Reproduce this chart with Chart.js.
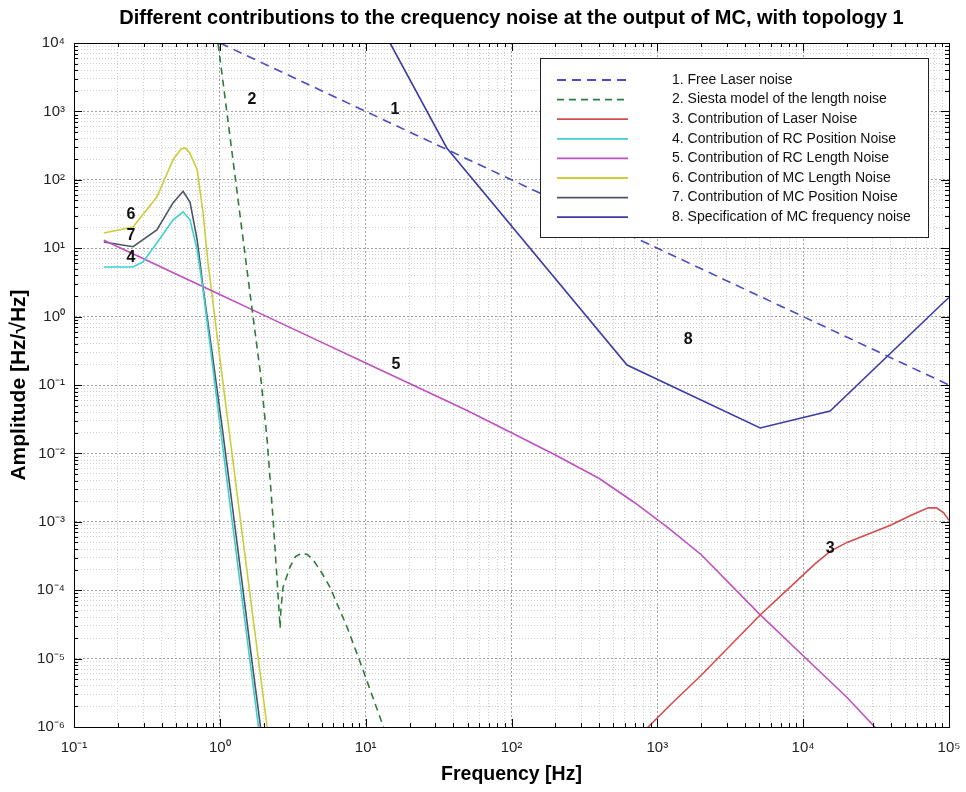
<!DOCTYPE html>
<html><head><meta charset="utf-8">
<script src="https://cdn.jsdelivr.net/npm/chart.js@4.4.1/dist/chart.umd.min.js"></script>
<style>html,body{margin:0;padding:0;background:#fff}#wrap{width:966px;height:792px}</style>
</head><body><div id="wrap"><canvas id="c" width="966" height="792"></canvas></div>
<script>
// ---------- texts ----------
const chartTitle = "Different contributions to the crequency noise at the output of MC, with topology 1";
const xTitle = "Frequency [Hz]";
const yTitle = "Amplitude [Hz/\u221AHz]";
const seriesLabels = [
  "1. Free Laser noise",
  "2. Siesta model of the length noise",
  "3. Contribution of Laser Noise",
  "4. Contribution of RC Position Noise",
  "5. Contribution of RC Length Noise",
  "6. Contribution of MC Length Noise",
  "7. Contribution of MC Position Noise",
  "8. Specification of MC frequency noise"
];
const xTickValues = [0.1, 1, 10, 100, 1e3, 1e4, 1e5];
const xTickLabels = ["10\u207B\u00B9", "10\u2070", "10\u00B9", "10\u00B2", "10\u00B3", "10\u2074", "10\u2075"];
const yTickValues = [1e-6, 1e-5, 1e-4, 1e-3, 1e-2, 1e-1, 1, 10, 100, 1e3, 1e4];
const yTickLabels = ["10\u207B\u2076", "10\u207B\u2075", "10\u207B\u2074", "10\u207B\u00B3", "10\u207B\u00B2", "10\u207B\u00B9", "10\u2070", "10\u00B9", "10\u00B2", "10\u00B3", "10\u2074"];

// ---------- series (frequency [Hz], amplitude [Hz/sqrtHz]) ----------
const freeLaserF = [1, 10, 100, 1000, 10000, 100000];
const freeLaserA = [1e4, 1e3, 100, 10, 1, 0.1];

const siestaF = [0.95, 1.175, 1.375, 1.61, 1.89, 2.11, 2.32, 2.47, 2.59, 2.62, 2.71, 3.03, 3.3, 3.66, 4.0, 4.35, 5.0, 5.7, 7.45, 9.2, 12.6, 14];
const siestaA = [1.45e4, 423, 30.6, 2.2, 0.16, 0.0158, 1.07e-3, 1.4e-4, 2.8e-5, 5e-5, 1.1e-4, 2.2e-4, 3.1e-4, 3.5e-4, 3.3e-4, 2.8e-4, 1.8e-4, 1.1e-4, 2.9e-5, 8.7e-6, 1.35e-6, 7e-7];

const laserF = [780, 865, 1225, 2000, 5070, 8000, 12000, 15300, 20000, 27500, 40000, 55000, 72000, 82000, 92000, 100000];
const laserA = [8e-7, 1e-6, 2.1e-6, 5.7e-6, 4.34e-5, 1.07e-4, 2.4e-4, 3.7e-4, 5.0e-4, 6.5e-4, 9e-4, 1.25e-3, 1.6e-3, 1.6e-3, 1.35e-3, 1.05e-3];

const rcPosF = [0.16, 0.254, 0.297, 0.37, 0.477, 0.56, 0.625, 0.70, 0.767, 0.857, 1.0, 1.17, 1.375, 1.61, 1.83, 1.95];
const rcPosA = [5.3, 5.3, 6.3, 11.9, 25.8, 34, 25.8, 9.4, 2.45, 0.385, 0.027, 1.9e-3, 1.3e-4, 9.2e-6, 1.1e-6, 3.8e-7];

const rcLenF = [0.16, 0.3, 0.5, 1, 2, 5, 10, 20, 50, 100, 200, 400, 700, 1200, 2000, 5000, 10000, 20000, 31000, 40000];
const rcLenA = [13.1, 7.0, 4.2, 2.1, 1.05, 0.42, 0.21, 0.105, 0.042, 0.02, 0.0095, 0.0043, 0.0019, 8e-4, 3.3e-4, 4.5e-5, 1.1e-5, 2.7e-6, 1.0e-6, 6e-7];

const mcLenF = [0.16, 0.254, 0.37, 0.477, 0.54, 0.576, 0.62, 0.70, 0.767, 0.83, 1.0, 1.31, 1.61, 2.11, 2.3];
const mcLenA = [16.7, 20.4, 56, 195, 280, 292, 250, 139, 33, 6.1, 0.25, 2.7e-3, 8.7e-5, 1e-6, 2.3e-7];

const mcPosF = [0.16, 0.254, 0.37, 0.477, 0.56, 0.625, 0.70, 0.767, 0.87, 1.03, 1.21, 1.42, 1.66, 1.89, 2.01];
const mcPosA = [12.3, 10.5, 18.5, 46, 68, 47, 13, 2.7, 0.385, 0.027, 1.9e-3, 1.3e-4, 9.2e-6, 1.1e-6, 3.8e-7];

const specF = [10, 14.7, 36, 620, 5070, 15300, 91000, 100000];
const specA = [4.5e4, 1e4, 292, 0.196, 0.0235, 0.0417, 1.58, 1.9];

// curve number annotations
const noteText = ["1", "2", "3", "4", "5", "6", "7", "8"];
const noteF = [15.9, 1.66, 15300, 0.246, 16.1, 0.246, 0.246, 1625];
const noteA = [1050, 1470, 4.0e-4, 7.4, 0.2, 30.6, 15.1, 0.455];

// ---------- build ----------
const FONT = "'Liberation Sans', Arial, Helvetica, sans-serif";
const pts = (F, A) => F.map((f, i) => ({x: f, y: A[i]}));
const isDecade = v => Math.abs(Math.log10(v) - Math.round(Math.log10(v))) < 1e-9;
const logTicks = (lo, hi) => {
  const out = [];
  for (let e = lo; e < hi; e++) for (let m = 1; m < 10; m++) out.push({value: m * Math.pow(10, e)});
  out.push({value: Math.pow(10, hi)});
  return out;
};
const labelFor = (vals, labs) => v => {
  if (!isDecade(v)) return "";
  const i = vals.findIndex(t => Math.abs(Math.log10(t) - Math.log10(v)) < 1e-9);
  return i >= 0 ? labs[i] : "";
};

const mk = (label, F, A, color, dash) => ({
  label, data: pts(F, A), borderColor: color, backgroundColor: color,
  borderWidth: 1.6, borderDash: dash || [], pointRadius: 0, tension: 0, fill: false
});

const datasets = [
  mk(seriesLabels[0], freeLaserF, freeLaserA, "#4b4bc4", [9, 6]),
  mk(seriesLabels[1], siestaF, siestaA, "#2f7d3c", [7, 5]),
  mk(seriesLabels[2], laserF, laserA, "#d44c4c"),
  mk(seriesLabels[3], rcPosF, rcPosA, "#3fcfd2"),
  mk(seriesLabels[4], rcLenF, rcLenA, "#c050c0"),
  mk(seriesLabels[5], mcLenF, mcLenA, "#cdcd3a"),
  mk(seriesLabels[6], mcPosF, mcPosA, "#4d5562"),
  mk(seriesLabels[7], specF, specA, "#3c3ca8")
];

const gridColor = ctx => (ctx.tick && isDecade(ctx.tick.value)) ? "#a0a0a0" : "#cfcfcf";
const gridDash = ctx => (ctx.tick && isDecade(ctx.tick.value)) ? [2, 2] : [1, 2];

const framePlugin = {
  id: "frameAndNotes",
  afterDatasetsDraw(chart) {
    const {ctx, chartArea: a, scales: {x, y}} = chart;
    ctx.save();
    // inward tick marks on all four sides
    ctx.strokeStyle = "#000"; ctx.lineWidth = 1; ctx.setLineDash([]);
    ctx.beginPath();
    x.ticks.forEach(t => {
      const px = Math.round(x.getPixelForValue(t.value)) + 0.5, L = isDecade(t.value) ? 8 : 4;
      ctx.moveTo(px, a.bottom); ctx.lineTo(px, a.bottom - L);
      ctx.moveTo(px, a.top); ctx.lineTo(px, a.top + L);
    });
    y.ticks.forEach(t => {
      const py = Math.round(y.getPixelForValue(t.value)) + 0.5, L = isDecade(t.value) ? 8 : 4;
      ctx.moveTo(a.left, py); ctx.lineTo(a.left + L, py);
      ctx.moveTo(a.right, py); ctx.lineTo(a.right - L, py);
    });
    ctx.stroke();
    ctx.strokeRect(Math.round(a.left) + 0.5, Math.round(a.top) + 0.5, Math.round(a.right - a.left), Math.round(a.bottom - a.top));

    // curve numbers
    ctx.fillStyle = "#111"; ctx.font = "bold 16px " + FONT;
    ctx.textAlign = "center"; ctx.textBaseline = "middle";
    noteText.forEach((s, i) => ctx.fillText(s, x.getPixelForValue(noteF[i]), y.getPixelForValue(noteA[i])));

    // legend box
    const bx = a.right - 21 - 388, by = a.top + 15, bw = 388, bh = 179;
    ctx.fillStyle = "#fff"; ctx.fillRect(bx, by, bw, bh);
    ctx.strokeStyle = "#222"; ctx.lineWidth = 1; ctx.strokeRect(Math.round(bx) + 0.5, Math.round(by) + 0.5, bw, bh);
    ctx.font = "14px " + FONT; ctx.textAlign = "left"; ctx.textBaseline = "middle";
    chart.data.datasets.forEach((d, i) => {
      const ly = by + 22 + i * 19.6;
      ctx.strokeStyle = d.borderColor; ctx.lineWidth = 1.8; ctx.setLineDash(d.borderDash || []);
      ctx.beginPath(); ctx.moveTo(bx + 17, ly); ctx.lineTo(bx + 88, ly); ctx.stroke();
      ctx.setLineDash([]);
      ctx.fillStyle = "#111"; ctx.fillText(d.label, bx + 132, ly);
    });
    ctx.restore();
  }
};

new Chart(document.getElementById("c"), {
  type: "line",
  data: {datasets},
  plugins: [framePlugin],
  options: {
    responsive: false, animation: false, devicePixelRatio: 1,
    layout: {padding: {left: 0, right: 17, top: 0, bottom: 0}},
    plugins: {
      legend: {display: false},
      tooltip: {enabled: false},
      title: {display: true, text: chartTitle, fullSize: false, color: "#000",
        font: {family: FONT, size: 20, weight: "bold", lineHeight: 1.2}, padding: {top: 6, bottom: 13}}
    },
    scales: {
      x: {
        type: "logarithmic", min: 0.1, max: 1e5, position: "bottom",
        afterBuildTicks: s => { s.ticks = logTicks(-1, 5); },
        afterFit: s => { s.height = 65; s.paddingRight = 0; s.paddingLeft = 0; },
        ticks: {autoSkip: false, maxRotation: 0, minRotation: 0, padding: 12, color: "#222",
          font: {family: FONT, size: 15}, callback: labelFor(xTickValues, xTickLabels)},
        grid: {color: gridColor, lineWidth: 1, drawTicks: false},
        border: {display: true, color: "#000", width: 1, dash: gridDash},
        title: {display: true, text: xTitle, color: "#000", font: {family: FONT, size: 19.5, weight: "bold", lineHeight: 1.2}, padding: {top: 0, bottom: 6}}
      },
      y: {
        type: "logarithmic", min: 1e-6, max: 1e4, position: "left",
        afterBuildTicks: s => { s.ticks = logTicks(-6, 4); },
        afterFit: s => { s.width = 74; s.paddingTop = 0; s.paddingBottom = 0; },
        ticks: {autoSkip: false, padding: 9, color: "#222",
          font: {family: FONT, size: 15}, callback: labelFor(yTickValues, yTickLabels)},
        grid: {color: gridColor, lineWidth: 1, drawTicks: false},
        border: {display: true, color: "#000", width: 1, dash: gridDash},
        title: {display: true, text: yTitle, color: "#000", font: {family: FONT, size: 21, weight: "bold", lineHeight: 1.2}, padding: {top: 7, bottom: 0}}
      }
    }
  }
});
</script></body></html>
